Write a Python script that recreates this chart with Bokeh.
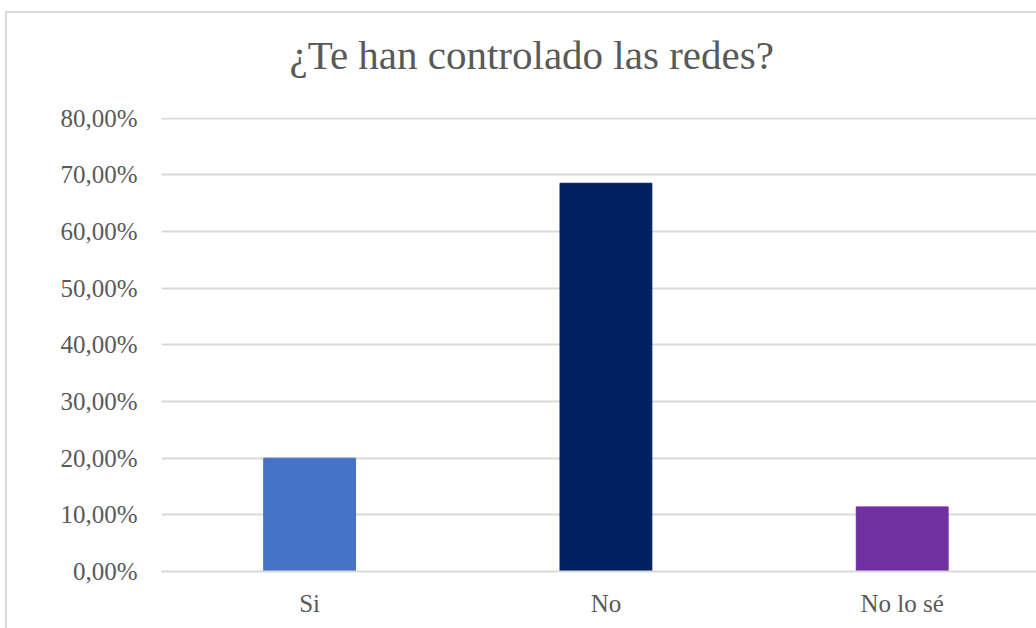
from bokeh.plotting import figure
from bokeh.models import Range1d, FixedTicker, CustomJSTickFormatter, ColumnDataSource, Title
from bokeh.embed import file_html
from bokeh.resources import INLINE

title = "¿Te han controlado  las redes?"
categories = ["Si", "No", "No lo sé"]
values = [20.0, 68.5, 11.4]
colors = ["#4472C4", "#002060", "#7030A0"]
y_ticks = [0, 10, 20, 30, 40, 50, 60, 70, 80]

xpos = [i + 0.5 for i in range(len(categories))]
src = ColumnDataSource(dict(x=xpos, top=values, color=colors))

p = figure(width=1031, height=617, output_backend="svg", toolbar_location=None,
           x_range=Range1d(0, 2.96), y_range=Range1d(0, 80.1),
           min_border_left=154, min_border_right=0, min_border_top=104, min_border_bottom=59)
p.styles = {"margin-left": "5px", "margin-top": "11px",
            "border-left": "2px solid #d9d9d9", "border-top": "2px solid #d9d9d9"}
p.outline_line_color = None

p.vbar(x="x", top="top", bottom=0, width=0.31, color="color", source=src)

# spacer between the frame and the chart title
p.add_layout(Title(text=" ", text_font_size="1px", standoff=32), "above")

p.title.text = title
p.title.text_font = "Liberation Serif"
p.title.text_font_size = "41px"
p.title.text_font_style = "normal"
p.title.text_color = "#595959"
p.title.align = "left"
p.title.offset = 128
p.title.standoff = 10

p.xaxis.ticker = FixedTicker(ticks=xpos)
p.xaxis.major_label_overrides = {x: c for x, c in zip(xpos, categories)}
p.xaxis.major_tick_line_color = None
p.xaxis.minor_tick_line_color = None
p.xaxis.axis_line_color = "#d9d9d9"
p.xaxis.axis_line_width = 2
p.xaxis.major_label_text_font = "Liberation Serif"
p.xaxis.major_label_text_font_size = "25px"
p.xaxis.major_label_text_color = "#595959"
p.xaxis.major_label_standoff = 12

p.yaxis.ticker = FixedTicker(ticks=y_ticks)
p.yaxis.formatter = CustomJSTickFormatter(code="return tick.toFixed(2).replace('.', ',') + '%';")
p.yaxis.major_tick_line_color = None
p.yaxis.minor_tick_line_color = None
p.yaxis.axis_line_color = None
p.yaxis.major_label_text_font = "Liberation Serif"
p.yaxis.major_label_text_font_size = "25px"
p.yaxis.major_label_text_color = "#595959"
p.yaxis.major_label_standoff = 18

p.xgrid.grid_line_color = None
p.ygrid.ticker = FixedTicker(ticks=y_ticks)
p.ygrid.grid_line_color = "#d9d9d9"
p.ygrid.grid_line_width = 2

open("out.html", "w").write(file_html(p, INLINE))
